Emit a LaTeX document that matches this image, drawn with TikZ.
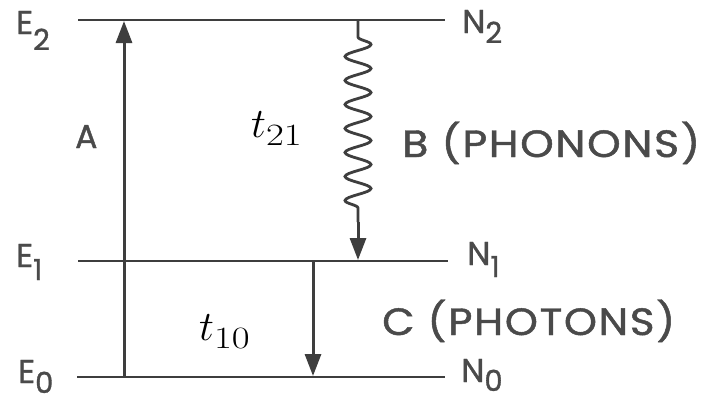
\RequirePackage{fix-cm}
\documentclass[tikz,border=0pt]{standalone}
\usepackage{graphicx}
\usepackage{fontspec}
\newfontfamily\lab[LetterSpace=4,FakeBold=1.2]{Poppins}
\usetikzlibrary{arrows.meta,decorations.pathmorphing}
\definecolor{linecol}{HTML}{3E3E3E}
\definecolor{txtcol}{HTML}{4A4A4A}
\newcommand\lsub[2]{\raisebox{#1}{\fontsize{29}{29}\selectfont #2}}
\newcommand\tsub[1]{\raisebox{-8pt}{\scalebox{1.25}[1]{\fontsize{31}{31}\selectfont #1}}}
\begin{document}
\begin{tikzpicture}[x=1pt,y=-1pt,
  lvl/.style={draw=linecol, line width=2.8pt},
  arr/.style={draw=linecol, line width=3pt, -{Triangle[length=22pt,width=16pt]}},
  wave/.style={draw=linecol, line width=2.8pt, decorate,
    decoration={snake, segment length=24pt, amplitude=13pt, pre length=17pt, post length=9pt}},
  lbl/.style={text=txtcol, font=\lab\fontsize{33}{33}\selectfont, inner sep=0pt, anchor=base west},
  big/.style={text=txtcol, font=\lab\fontsize{38}{38}\selectfont, inner sep=0pt, anchor=base west},
  tl/.style={text=black, font=\fontsize{42}{42}\selectfont, inner sep=0pt, anchor=base west}]
\useasboundingbox (0,0) rectangle (706,402);
\fill[white] (0,0) rectangle (706,402);
% level lines
\coordinate (e2l) at (78,20);  \coordinate (e2r) at (445,20);
\coordinate (e1l) at (78,261); \coordinate (e1r) at (448,261);
\coordinate (e0l) at (77,377); \coordinate (e0r) at (445,377);
\draw[lvl] (e2l) -- (e2r);
\draw[lvl] (e1l) -- (e1r);
\draw[lvl] (e0l) -- (e0r);
% transitions
\coordinate (a0) at (124,377); \coordinate (a2) at (124,21);
\draw[arr] (a0) -- (a2);
\coordinate (b2) at (358,20); \coordinate (bm) at (358,222); \coordinate (b1) at (358,260);
\draw[wave] (b2) -- (bm);
\draw[arr] (bm) -- (b1);
\coordinate (c1) at (313,261); \coordinate (c0) at (313,376);
\draw[arr] (c1) -- (c0);
% level labels
\node[lbl] (E2) at (16,34) {E\lsub{-16pt}{2}};
\node[lbl] (E1) at (16,267) {E\lsub{-13pt}{1}};
\node[lbl] (E0) at (18,383) {E\lsub{-10pt}{0}};
\node[lbl] (N2) at (462,33) {N\lsub{-10pt}{2}};
\node[lbl] (N1) at (467,265) {N\lsub{-12pt}{1}};
\node[lbl] (N0) at (461,382) {N\lsub{-9pt}{0}};
% transition labels
\node[lbl] (A) at (75,148) {A};
\node[big] (B) at (402,157) {\resizebox{298pt}{\height}{B (PHONONS)}};
\node[big] (C) at (382,335) {\resizebox{293pt}{\height}{C (PHOTONS)}};
\node[tl] (t21) at (251,137) {$t$\tsub{21}};
\node[tl] (t10) at (199,340) {$t$\tsub{10}};
\end{tikzpicture}
\end{document}
